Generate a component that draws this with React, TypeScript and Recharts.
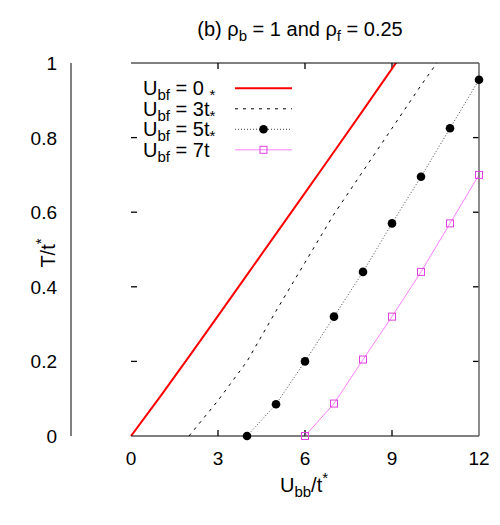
import React from 'react';
import { LineChart, Line, XAxis, YAxis } from 'recharts';

const FONT = '"Liberation Sans", Arial, Helvetica, sans-serif';

// Tick values and labels
const xTicks = [0, 3, 6, 9, 12];
const xTickLabels = ['0', '3', '6', '9', '12'];
const yTicks = [0, 0.2, 0.4, 0.6, 0.8, 1];
const yTickLabels = ['0', '0.2', '0.4', '0.6', '0.8', '1'];

// U_bf = 0 (red solid)
const ubb0 = [0, 1, 2, 3, 4, 5, 6, 7, 8, 9, 10];
const T0 = [0, 0.105, 0.213, 0.322, 0.432, 0.542, 0.652, 0.762, 0.873, 0.985, 1.097];
// U_bf = 3t (black dashed)
const ubb3 = [2, 3, 4, 5, 6, 7, 8, 9, 10, 11];
const T3 = [0, 0.095, 0.2, 0.335, 0.465, 0.595, 0.71, 0.825, 0.94, 1.05];
// U_bf = 5t (dotted with filled circles)
const ubb5 = [4, 5, 6, 7, 8, 9, 10, 11, 12];
const T5 = [0, 0.085, 0.2, 0.32, 0.44, 0.57, 0.695, 0.825, 0.955];
// U_bf = 7t (magenta with open squares)
const ubb7 = [6, 7, 8, 9, 10, 11, 12];
const T7 = [0, 0.087, 0.205, 0.32, 0.44, 0.57, 0.7];

const X_MIN = 0;
const X_MAX = 12;
const Y_MIN = 0;
const Y_MAX = 1;

const rows = (u: number[], t: number[]) => u.map((x, i) => ({ u: x, T: t[i] }));
const data0 = rows(ubb0, T0);
const data3 = rows(ubb3, T3);
const data5 = rows(ubb5, T5);
const data7 = rows(ubb7, T7);

const RED = '#ff0000';
const MAG_LINE = '#ff80ff';
const MAG_MARK = '#e040e0';

const TICK_FS = 19;
const LABEL_FS = 20;
const SUB_FS = 15;

// chart layout
const W = 500;
const H = 525;
const MARGIN = { top: 62, right: 20, bottom: 59, left: 71 };
const X_AXIS_H = 30;
const TOP_AXIS_H = 1;
const Y_AXIS_W = 60;
const RIGHT_AXIS_W = 1;
const PLOT_L = MARGIN.left + Y_AXIS_W;
const PLOT_R = W - MARGIN.right - RIGHT_AXIS_W;
const PLOT_T = MARGIN.top + TOP_AXIS_H;
const PLOT_B = H - MARGIN.bottom - X_AXIS_H;
const TICK = 6;
const px = (v: number) => PLOT_L + ((v - X_MIN) / (X_MAX - X_MIN)) * (PLOT_R - PLOT_L);
const py = (v: number) => PLOT_B - ((v - Y_MIN) / (Y_MAX - Y_MIN)) * (PLOT_B - PLOT_T);

const BottomTick = (p: any) => (
  <text x={p.x} y={p.y + 29} textAnchor="middle" fontSize={TICK_FS} fontFamily={FONT} fill="#000" stroke="none">
    {xTickLabels[p.index] ?? String(p.payload.value)}
  </text>
);
const LeftTick = (p: any) => (
  <text x={p.x - 14} y={p.y + 7} textAnchor="end" fontSize={TICK_FS} fontFamily={FONT} fill="#000" stroke="none">
    {yTickLabels[p.index] ?? String(p.payload.value)}
  </text>
);
const NoLabel = () => <g />;

const CircleDot = (p: any) =>
  p.cx == null ? <g key={p.index} /> : <circle key={p.index} cx={p.cx} cy={p.cy} r={4.3} fill="#000" />;
const SquareDot = (p: any) =>
  p.cx == null ? (
    <g key={p.index} />
  ) : (
    <rect key={p.index} x={p.cx - 3.5} y={p.cy - 3.5} width={7} height={7} fill="none" stroke={MAG_MARK} strokeWidth={1} />
  );

const legendRows = [
  { main: 'bf', value: '= 0 ', tail: '*', kind: 'red' },
  { main: 'bf', value: '= 3t', tail: '*', kind: 'dash' },
  { main: 'bf', value: '= 5t', tail: '*', kind: 'dot' },
  { main: 'bf', value: '= 7t', tail: '', kind: 'mag' },
];

export default function App() {
  const lx = 143;
  const ly0 = 88.3;
  const dy = 20.5;
  const sx1 = 235;
  const sx2 = 292;
  const innerX = xTicks.filter((v) => v > X_MIN && v < X_MAX);
  const innerY = yTicks.filter((v) => v > Y_MIN && v < Y_MAX);
  return (
    <div style={{ position: 'absolute', left: 0, top: 0, width: W, height: H, background: '#fff' }}>
      <LineChart width={W} height={H} margin={MARGIN}>
        <XAxis
          xAxisId={0}
          dataKey="u"
          type="number"
          domain={[X_MIN, X_MAX]}
          ticks={xTicks}
          interval={0}
          height={X_AXIS_H}
          tickLine={false}
          tickSize={0}
          tickMargin={0}
          tick={BottomTick}
          axisLine={{ stroke: '#000', strokeWidth: 1 }}
        />
        <XAxis
          xAxisId="top"
          orientation="top"
          type="number"
          domain={[X_MIN, X_MAX]}
          ticks={xTicks}
          interval={0}
          height={TOP_AXIS_H}
          tickLine={false}
          tickSize={0}
          tickMargin={0}
          tick={NoLabel}
          axisLine={{ stroke: '#000', strokeWidth: 1 }}
        />
        <YAxis
          yAxisId="left"
          type="number"
          domain={[Y_MIN, Y_MAX]}
          ticks={yTicks}
          interval={0}
          width={Y_AXIS_W}
          tickLine={false}
          tickSize={0}
          tickMargin={0}
          tick={LeftTick}
          axisLine={{ stroke: '#000', strokeWidth: 1 }}
        />
        <YAxis
          yAxisId="right"
          orientation="right"
          type="number"
          domain={[Y_MIN, Y_MAX]}
          ticks={yTicks}
          interval={0}
          width={RIGHT_AXIS_W}
          tickLine={false}
          tickSize={0}
          tickMargin={0}
          tick={NoLabel}
          axisLine={{ stroke: '#666', strokeWidth: 1.5 }}
        />
        <YAxis yAxisId="clip" type="number" domain={[Y_MIN, Y_MAX]} allowDataOverflow hide />

        <Line
          data={data0}
          dataKey="T"
          yAxisId="clip"
          type="linear"
          stroke={RED}
          strokeWidth={2}
          dot={false}
          activeDot={false}
          isAnimationActive={false}
        />
        <Line
          data={data3}
          dataKey="T"
          yAxisId="clip"
          type="linear"
          stroke="#000"
          strokeWidth={1}
          strokeDasharray="3 5"
          dot={false}
          activeDot={false}
          isAnimationActive={false}
        />
        <Line
          data={data5}
          dataKey="T"
          yAxisId="left"
          type="linear"
          stroke="#444"
          strokeWidth={1}
          strokeDasharray="1 2"
          dot={CircleDot}
          activeDot={false}
          isAnimationActive={false}
        />
        <Line
          data={data7}
          dataKey="T"
          yAxisId="left"
          type="linear"
          stroke={MAG_LINE}
          strokeWidth={1}
          dot={SquareDot}
          activeDot={false}
          isAnimationActive={false}
        />

        {/* inward tick marks on all four sides */}
        <g>
          {innerX.map((v) => (
            <line key={`xb${v}`} x1={px(v)} x2={px(v)} y1={PLOT_B} y2={PLOT_B - TICK} stroke="#000" strokeWidth={1.3} />
          ))}
          {innerX.map((v) => (
            <line key={`xt${v}`} x1={px(v)} x2={px(v)} y1={PLOT_T} y2={PLOT_T + TICK} stroke="#000" strokeWidth={1.3} />
          ))}
          {innerY.map((v) => (
            <line key={`yl${v}`} x1={PLOT_L} x2={PLOT_L + TICK} y1={py(v)} y2={py(v)} stroke="#000" strokeWidth={1.3} />
          ))}
          {innerY.map((v) => (
            <line key={`yr${v}`} x1={PLOT_R} x2={PLOT_R - TICK} y1={py(v)} y2={py(v)} stroke="#000" strokeWidth={1.3} />
          ))}
        </g>

        {/* Title */}
        <text x={300} y={36} textAnchor="middle" fontSize={LABEL_FS} fontFamily={FONT} fill="#000">
          (b) ρ<tspan fontSize={SUB_FS} dy={5}>b</tspan>
          <tspan dy={-5}> = 1 and ρ</tspan>
          <tspan fontSize={SUB_FS} dy={5}>f</tspan>
          <tspan dy={-5}> = 0.25</tspan>
        </text>

        {/* X axis label */}
        <text x={304} y={492} textAnchor="middle" fontSize={LABEL_FS} fontFamily={FONT} fill="#000">
          U<tspan fontSize={SUB_FS} dy={5}>bb</tspan>
          <tspan dy={-5}>/t</tspan>
          <tspan fontSize={SUB_FS} dy={-9}>*</tspan>
        </text>

        {/* Y axis label */}
        <text
          x={0}
          y={0}
          transform="translate(55,253) rotate(-90)"
          textAnchor="middle"
          fontSize={LABEL_FS}
          fontFamily={FONT}
          fill="#000"
        >
          T/t<tspan fontSize={SUB_FS} dy={-9}>*</tspan>
        </text>

        {/* Legend */}
        {legendRows.map((r, i) => {
          const cy = ly0 + i * dy;
          return (
            <g key={i}>
              <text x={lx} y={cy + 7} fontSize={LABEL_FS} fontFamily={FONT} fill="#000">
                U<tspan fontSize={SUB_FS} dy={5}>{r.main}</tspan>
                <tspan dy={-5}> {r.value}</tspan>
                {r.tail ? (
                  <tspan fontSize={SUB_FS} dy={5}>
                    {r.tail}
                  </tspan>
                ) : null}
              </text>
              {r.kind === 'red' && <line x1={sx1} x2={sx2} y1={cy} y2={cy} stroke={RED} strokeWidth={2} />}
              {r.kind === 'dash' && (
                <line x1={sx1} x2={sx2} y1={cy} y2={cy} stroke="#000" strokeWidth={1} strokeDasharray="3 5" />
              )}
              {r.kind === 'dot' && (
                <g>
                  <line x1={sx1} x2={sx2} y1={cy} y2={cy} stroke="#444" strokeWidth={1} strokeDasharray="1 2" />
                  <circle cx={(sx1 + sx2) / 2} cy={cy} r={4.3} fill="#000" />
                </g>
              )}
              {r.kind === 'mag' && (
                <g>
                  <line x1={sx1} x2={sx2} y1={cy} y2={cy} stroke={MAG_LINE} strokeWidth={1} />
                  <rect x={(sx1 + sx2) / 2 - 3.5} y={cy - 3.5} width={7} height={7} fill="none" stroke={MAG_MARK} />
                </g>
              )}
            </g>
          );
        })}
      </LineChart>
    </div>
  );
}
